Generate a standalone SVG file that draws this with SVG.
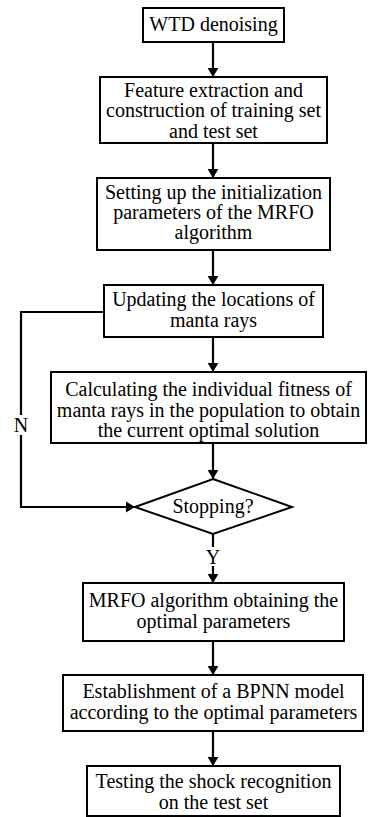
<svg xmlns="http://www.w3.org/2000/svg" width="370" height="817" viewBox="0 0 370 817">
<style>
.box{fill:#fff;stroke:#000;stroke-width:2}
.t{font-family:"Liberation Serif","Times New Roman",serif;font-size:20px;fill:#000;text-anchor:middle}
.c{fill:none;stroke:#000;stroke-width:2.2}
</style>
<defs>
<marker id="ah" viewBox="0 0 10 12" refX="10" refY="6" markerWidth="9" markerHeight="12" markerUnits="userSpaceOnUse" orient="auto">
<path d="M0,0 L10,6 L0,12 Z" fill="#000"/>
</marker>
</defs>
<rect width="370" height="817" fill="#fff"/>
<g id="connectors">
<line class="c" x1="213" y1="42" x2="213" y2="77" marker-end="url(#ah)"/>
<line class="c" x1="213" y1="143" x2="213" y2="178" marker-end="url(#ah)"/>
<line class="c" x1="213" y1="250" x2="213" y2="285" marker-end="url(#ah)"/>
<line class="c" x1="213" y1="337" x2="213" y2="372" marker-end="url(#ah)"/>
<line class="c" x1="213" y1="443" x2="213" y2="479" marker-end="url(#ah)"/>
<polyline class="c" points="104,312 21,312 21,415"/>
<polyline class="c" points="21,435 21,507 135,507" marker-end="url(#ah)"/>
<text class="t" x="21" y="432">N</text>
<line class="c" x1="213" y1="534" x2="213" y2="547"/>
<text class="t" x="213" y="564">Y</text>
<line class="c" x1="213" y1="566" x2="213" y2="583" marker-end="url(#ah)"/>
<line class="c" x1="213" y1="641" x2="213" y2="675" marker-end="url(#ah)"/>
<line class="c" x1="213" y1="731" x2="213" y2="766" marker-end="url(#ah)"/>
</g>
<g id="n1">
<rect class="box" x="143" y="8" width="141" height="34"/>
<text class="t" x="213.5" y="31">WTD denoising</text>
</g>
<g id="n2">
<rect class="box" x="100" y="77" width="227" height="66"/>
<text class="t" x="213.5" y="97">Feature extraction and</text>
<text class="t" x="213.5" y="117">construction of training set</text>
<text class="t" x="213.5" y="138">and test set</text>
</g>
<g id="n3">
<rect class="box" x="97" y="178" width="233" height="72"/>
<text class="t" x="213.5" y="199">Setting up the initialization</text>
<text class="t" x="213.5" y="219">parameters of the MRFO</text>
<text class="t" x="213.5" y="239">algorithm</text>
</g>
<g id="n4">
<rect class="box" x="104" y="285" width="219" height="52"/>
<text class="t" x="213.5" y="306">Updating the locations of</text>
<text class="t" x="213.5" y="327">manta rays</text>
</g>
<g id="n5">
<rect class="box" x="51" y="372" width="315" height="71"/>
<text class="t" x="208.5" y="396">Calculating the individual fitness of</text>
<text class="t" x="208.5" y="417">manta rays in the population to obtain</text>
<text class="t" x="208.5" y="437">the current optimal solution</text>
</g>
<g id="n6">
<polygon class="box" points="213,479 292,507 213,534 135,507"/>
<text class="t" x="213" y="513">Stopping?</text>
</g>
<g id="n7">
<rect class="box" x="83" y="583" width="261" height="58"/>
<text class="t" x="213.5" y="607">MRFO algorithm obtaining the</text>
<text class="t" x="213.5" y="628">optimal parameters</text>
</g>
<g id="n8">
<rect class="box" x="63" y="675" width="300" height="56"/>
<text class="t" x="213.5" y="698">Establishment of a BPNN model</text>
<text class="t" x="213.5" y="719">according to the optimal parameters</text>
</g>
<g id="n9">
<rect class="box" x="87" y="766" width="253" height="50"/>
<text class="t" x="213.5" y="788">Testing the shock recognition</text>
<text class="t" x="213.5" y="809">on the test set</text>
</g>
</svg>
